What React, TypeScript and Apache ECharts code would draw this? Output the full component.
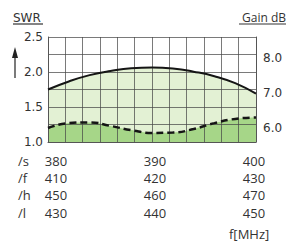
import React, { useEffect, useRef } from "react";
import * as echarts from "echarts";

const freqs = [380, 382, 384, 386, 388, 390, 392, 394, 396, 398, 400];
const gainDb = [7.0, 7.23, 7.41, 7.53, 7.61, 7.63, 7.6, 7.51, 7.38, 7.18, 6.88];
const swr = [1.2, 1.27, 1.28, 1.23, 1.17, 1.13, 1.135, 1.185, 1.27, 1.33, 1.35];

const bandNames = ["/s", "/f", "/h", "/l"];
const bandTicks = [
  [380, 390, 400],
  [410, 420, 430],
  [450, 460, 470],
  [430, 440, 450],
];
const swrTicks = [1.0, 1.5, 2.0, 2.5];
const gainTicks = [6.0, 7.0, 8.0];

const textColor = "#333";
const gridLineColor = "rgba(70,70,70,0.72)";
const borderColor = "#555";

export default function App() {
  const ref = useRef<HTMLDivElement>(null);
  useEffect(() => {
    if (!ref.current) return;
    const chart = echarts.init(ref.current, undefined, { renderer: "svg" });

    const bandAxes = bandNames.map((name, i) => ({
      type: "value",
      gridIndex: 1,
      position: "bottom",
      offset: i * 17.2,
      min: bandTicks[i][0],
      max: bandTicks[i][bandTicks[i].length - 1],
      interval: bandTicks[i][1] - bandTicks[i][0],
      axisLine: { show: false },
      axisTick: { show: false },
      splitLine: { show: false },
      axisLabel: {
        margin: 0,
        verticalAlign: "middle",
        fontSize: 13,
        fontFamily: "Open Sans",
        color: textColor,
      },
      name,
      nameLocation: "start",
      nameGap: 38,
      nameTextStyle: {
        align: "left",
        verticalAlign: "middle",
        fontSize: 13,
        fontFamily: "Open Sans",
        color: textColor,
      },
    }));

    const isTick = (v: number, ticks: number[]) =>
      ticks.some((t) => Math.abs(t - v) < 1e-6);

    chart.setOption({
      animation: false,
      grid: [
        { left: 48, right: 30, top: 37, height: 105 },
        { left: 56, right: 32, top: 150, height: 11 },
      ],
      xAxis: [
        {
          type: "value",
          gridIndex: 0,
          min: freqs[0],
          max: freqs[freqs.length - 1],
          interval: (freqs[freqs.length - 1] - freqs[0]) / 12,
          z: 3,
          axisLabel: { show: false },
          axisTick: { show: false },
          axisLine: { show: true, lineStyle: { color: borderColor, width: 1 } },
          splitLine: { show: true, lineStyle: { color: gridLineColor, width: 1 } },
        },
        ...bandAxes,
      ],
      yAxis: [
        {
          type: "value",
          gridIndex: 0,
          min: 1.0,
          max: 2.5,
          interval: 0.25,
          z: 3,
          axisLine: { show: true, lineStyle: { color: borderColor, width: 1 } },
          axisTick: { show: false },
          splitLine: { show: true, lineStyle: { color: gridLineColor, width: 1 } },
          axisLabel: {
            margin: 5,
            fontSize: 12,
            fontFamily: "DejaVu Sans",
            color: textColor,
            formatter: (v: number) => (isTick(v, swrTicks) ? v.toFixed(1) : ""),
          },
        },
        {
          type: "value",
          gridIndex: 0,
          position: "right",
          min: 5.5,
          max: 8.5,
          interval: 0.5,
          z: 3,
          axisLine: { show: true, lineStyle: { color: borderColor, width: 1 } },
          axisTick: { show: false },
          splitLine: { show: false },
          axisLabel: {
            margin: 7,
            verticalAlign: "top",
            lineHeight: 7,
            fontSize: 12,
            fontFamily: "DejaVu Sans",
            color: textColor,
            formatter: (v: number) => (isTick(v, gainTicks) ? v.toFixed(1) : ""),
          },
        },
        { type: "value", gridIndex: 1, show: false, min: 0, max: 1 },
      ],
      series: [
        {
          type: "line",
          xAxisIndex: 0,
          yAxisIndex: 1,
          data: freqs.map((f, i) => [f, gainDb[i]]),
          smooth: 0.5,
          symbol: "none",
          lineStyle: { width: 0 },
          areaStyle: { color: "#e3f1d4", opacity: 1, origin: "start" },
          z: 1,
        },
        {
          type: "line",
          xAxisIndex: 0,
          yAxisIndex: 0,
          data: freqs.map((f, i) => [f, swr[i]]),
          smooth: 0.5,
          symbol: "none",
          lineStyle: { width: 0 },
          areaStyle: { color: "#a6d688", opacity: 1, origin: "start" },
          z: 1,
        },
        {
          type: "line",
          xAxisIndex: 0,
          yAxisIndex: 1,
          data: freqs.map((f, i) => [f, gainDb[i]]),
          smooth: 0.5,
          symbol: "none",
          lineStyle: { color: "#151515", width: 2 },
          z: 5,
        },
        {
          type: "line",
          xAxisIndex: 0,
          yAxisIndex: 0,
          data: freqs.map((f, i) => [f, swr[i]]),
          smooth: 0.5,
          symbol: "none",
          lineStyle: { color: "#151515", width: 2.5, type: [7, 4] },
          z: 5,
        },
      ],
      graphic: [
        {
          type: "text",
          x: 13,
          y: 17.5,
          style: {
            text: "SWR",
            fontSize: 12,
            fontFamily: "DejaVu Sans",
            fill: textColor,
            verticalAlign: "middle",
          },
        },
        {
          type: "line",
          shape: { x1: 13, y1: 24, x2: 43, y2: 24 },
          style: { stroke: textColor, lineWidth: 1.2 },
        },
        {
          type: "line",
          shape: { x1: 15, y1: 78, x2: 15, y2: 55 },
          style: { stroke: "#222", lineWidth: 1.2 },
        },
        {
          type: "polygon",
          shape: { points: [[12, 58], [18, 58], [15, 47]] },
          style: { fill: "#222" },
        },
        {
          type: "text",
          x: 242,
          y: 17,
          style: {
            text: "Gain dB",
            fontSize: 12,
            fontFamily: "Open Sans",
            fill: textColor,
            verticalAlign: "middle",
          },
        },
        {
          type: "line",
          shape: { x1: 239, y1: 24, x2: 286, y2: 24 },
          style: { stroke: textColor, lineWidth: 1.2 },
        },
        {
          type: "text",
          x: 229,
          y: 234,
          style: {
            text: "f[MHz]",
            fontSize: 13,
            fontFamily: "Open Sans",
            fill: textColor,
            verticalAlign: "middle",
          },
        },
      ],
    });
    return () => chart.dispose();
  }, []);
  return (
    <div
      ref={ref}
      style={{ position: "absolute", left: 0, top: 0, width: 286, height: 244 }}
    />
  );
}
